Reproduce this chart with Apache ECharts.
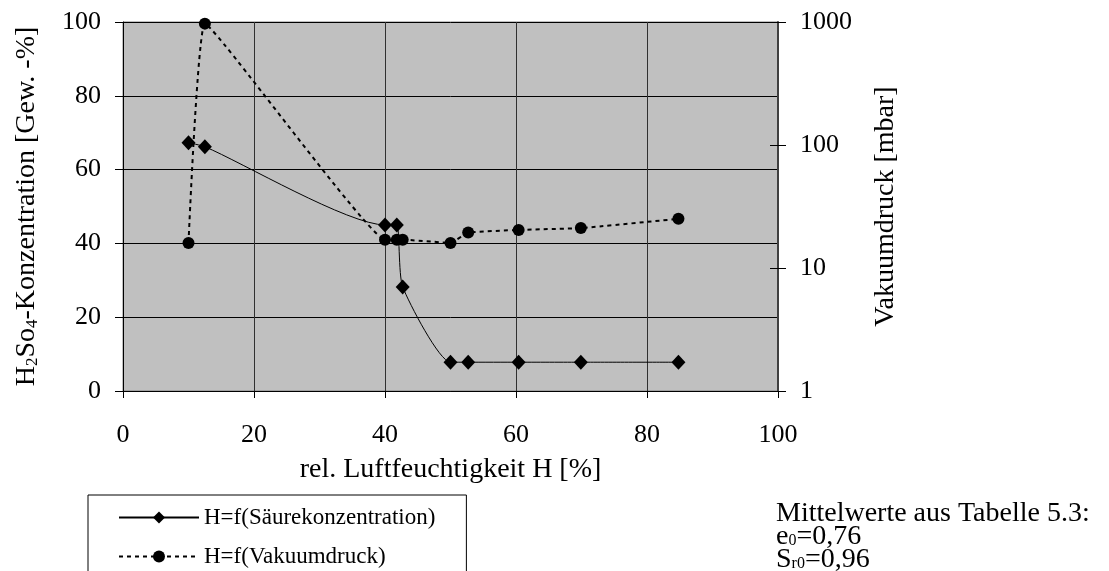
<!DOCTYPE html>
<html>
<head>
<meta charset="utf-8">
<script src="https://cdn.jsdelivr.net/npm/echarts@6/dist/echarts.min.js"></script>
<style>
  html, body { margin: 0; padding: 0; background: #fff; }
  #chart { width: 1109px; height: 571px; }
</style>
</head>
<body>
<div id="chart"></div>
<script>
// Relative humidity H [%] of each measurement
const humidity = [10, 12.5, 40, 41.8, 42.7, 50, 52.7, 60.4, 69.9, 84.8];
// H2SO4 concentration [Gew.-%] (left axis)
const acidConcentration = [67.3, 66.2, 45, 45, 28.2, 7.8, 7.8, 7.8, 7.8, 7.8];
// Vacuum pressure [mbar] (right, logarithmic axis)
const vacuumPressure = [16, 970, 17, 17, 17, 16, 19.4, 20.4, 21.1, 25.1];

const xTicks = [0, 20, 40, 60, 80, 100];
const leftTicks = [0, 20, 40, 60, 80, 100];
const rightTicks = [1, 10, 100, 1000];

const seriesNames = ['H=f(Säurekonzentration)', 'H=f(Vakuumdruck)'];

const FONT = '"Liberation Serif", "Times New Roman", serif';

const chart = echarts.init(document.getElementById('chart'), null, { renderer: 'canvas' });

const pairs = (xs, ys) => xs.map((x, i) => [x, ys[i]]);

chart.setOption({
  animation: false,
  backgroundColor: '#fff',
  textStyle: { fontFamily: FONT, color: '#000' },
  grid: [
    {
      left: 123, right: 331, top: 22, bottom: 180,
      show: true,
      backgroundColor: '#c0c0c0',
      borderColor: '#808080',
      borderWidth: 1
    },
    // narrow strip starting at the pressure axis; its left axis supplies
    // the inner half of the crossing ticks
    { left: 778, width: 20, top: 22, bottom: 180, show: false }
  ],
  legend: {
    orient: 'vertical',
    left: 88,
    top: 495,
    height: 120,
    padding: [11, 31, 40, 30],
    itemWidth: 80,
    itemHeight: 15,
    itemGap: 16,
    borderColor: '#000',
    borderWidth: 1,
    borderRadius: 0,
    data: seriesNames,
    textStyle: { fontFamily: FONT, fontSize: 23, color: '#000' }
  },
  xAxis: [
    {
      type: 'value',
      gridIndex: 0,
      min: xTicks[0],
      max: xTicks[xTicks.length - 1],
      interval: 20,
      name: 'rel. Luftfeuchtigkeit H [%]',
      nameLocation: 'middle',
      nameGap: 65,
      nameTextStyle: { fontFamily: FONT, fontSize: 28, color: '#000' },
      axisLine: { show: true, onZero: false, lineStyle: { color: '#000', width: 1 } },
      axisTick: { show: true, inside: false, length: 7, lineStyle: { color: '#000' } },
      axisLabel: { margin: 31, fontFamily: FONT, fontSize: 26, color: '#000' },
      splitLine: { show: true, lineStyle: { color: '#303030', width: 1 } }
    },
    {
      type: 'value',
      gridIndex: 1,
      min: 0,
      max: 1,
      show: false
    }
  ],
  yAxis: [
    {
      type: 'value',
      gridIndex: 0,
      position: 'left',
      min: leftTicks[0],
      max: leftTicks[leftTicks.length - 1],
      interval: 20,
      name: '{n|H}{s|2}{n|So}{s|4}{n|-Konzentration [Gew. -%]}',
      nameLocation: 'middle',
      nameRotate: 90,
      nameGap: 82,
      nameTextStyle: {
        fontFamily: FONT, fontSize: 28, color: '#000',
        rich: {
          n: { fontFamily: FONT, fontSize: 28, lineHeight: 28, color: '#000' },
          s: { fontFamily: FONT, fontSize: 17, lineHeight: 11, color: '#000', verticalAlign: 'bottom' }
        }
      },
      axisLine: { show: true, onZero: false, lineStyle: { color: '#000', width: 1 } },
      axisTick: { show: true, inside: false, length: 8, lineStyle: { color: '#000' } },
      axisLabel: { margin: 22, fontFamily: FONT, fontSize: 26, color: '#000' },
      splitLine: { show: true, lineStyle: { color: '#000', width: 1 } },
      minorTick: { show: false }
    },
    {
      type: 'log',
      logBase: 10,
      gridIndex: 0,
      position: 'right',
      min: rightTicks[0],
      max: rightTicks[rightTicks.length - 1],
      name: 'Vakuumdruck [mbar]',
      nameLocation: 'middle',
      nameRotate: 90,
      nameGap: 94,
      nameTextStyle: { fontFamily: FONT, fontSize: 28, color: '#000' },
      axisLine: { show: true, onZero: false, lineStyle: { color: '#404040', width: 2 } },
      axisTick: { show: true, inside: false, length: 8, lineStyle: { color: '#000' } },
      axisLabel: {
        margin: 22, fontFamily: FONT, fontSize: 26, color: '#000',
        formatter: (v) => String(Math.round(v))
      },
      splitLine: { show: false },
      minorTick: { show: false }
    },
    {
      type: 'log',
      logBase: 10,
      gridIndex: 1,
      position: 'left',
      min: rightTicks[0],
      max: rightTicks[rightTicks.length - 1],
      axisLine: { show: false },
      axisTick: { show: true, inside: false, length: 8, lineStyle: { color: '#000' } },
      axisLabel: { show: false },
      splitLine: { show: false },
      minorTick: { show: false }
    }
  ],
  series: [
    {
      name: seriesNames[0],
      type: 'line',
      xAxisIndex: 0,
      yAxisIndex: 0,
      data: pairs(humidity, acidConcentration),
      smooth: 0.2,
      symbol: 'diamond',
      symbolSize: [14, 15],
      itemStyle: { color: '#000', borderWidth: 0 },
      lineStyle: { color: '#000', width: 1, type: 'solid' },
      z: 3
    },
    {
      name: seriesNames[1],
      type: 'line',
      xAxisIndex: 0,
      yAxisIndex: 1,
      data: pairs(humidity, vacuumPressure),
      smooth: 0.08,
      symbol: 'circle',
      symbolSize: 12,
      itemStyle: { color: '#000', borderWidth: 0 },
      lineStyle: { color: '#000', width: 2, type: [4, 4] },
      z: 2
    }
  ],
  graphic: [
    {
      type: 'text',
      left: 776,
      top: 500,
      style: {
        text: '{n|Mittelwerte aus Tabelle 5.3:}\n{n|e}{s|0}{n|=0,76}\n{n|S}{s|r0}{n|=0,96}',
        fill: '#000',
        font: '28px ' + FONT,
        rich: {
          n: { fontFamily: FONT, fontSize: 28, lineHeight: 23, fill: '#000' },
          s: { fontFamily: FONT, fontSize: 16, lineHeight: 10, fill: '#000', verticalAlign: 'bottom' }
        }
      }
    }
  ]
});
</script>
</body>
</html>
